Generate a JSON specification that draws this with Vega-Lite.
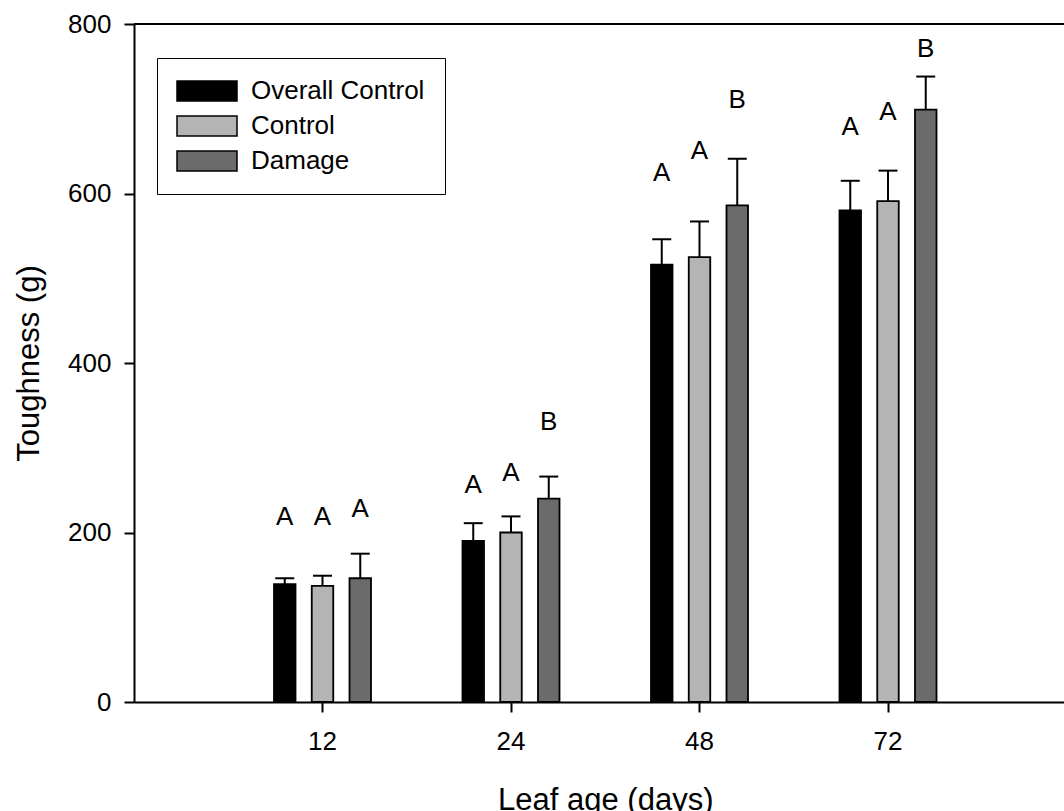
{
  "$schema": "https://vega.github.io/schema/vega-lite/v6.json",
  "width": 930,
  "height": 678,
  "autosize": {"type": "none"},
  "padding": {"left": 134, "top": 24, "right": 0, "bottom": 109},
  "background": "white",
  "config": {
    "view": {"stroke": null},
    "font": "Liberation Sans",
    "axis": {
      "domainColor": "black",
      "domainWidth": 2,
      "tickColor": "black",
      "tickWidth": 2,
      "tickSize": 10,
      "grid": false,
      "labelFont": "Liberation Sans",
      "labelFontSize": 26,
      "labelColor": "black",
      "titleFont": "Liberation Sans",
      "titleFontSize": 31,
      "titleFontWeight": "normal",
      "titleColor": "black"
    }
  },
  "data": {
    "values": [
      {"age": "12", "group": "Overall Control", "mean": 139, "upper": 146, "letter": "A", "letterPos": 218},
      {"age": "12", "group": "Control", "mean": 137, "upper": 149, "letter": "A", "letterPos": 218},
      {"age": "12", "group": "Damage", "mean": 146, "upper": 175, "letter": "A", "letterPos": 228},
      {"age": "24", "group": "Overall Control", "mean": 190, "upper": 211, "letter": "A", "letterPos": 256},
      {"age": "24", "group": "Control", "mean": 200, "upper": 219, "letter": "A", "letterPos": 270},
      {"age": "24", "group": "Damage", "mean": 240, "upper": 266, "letter": "B", "letterPos": 330},
      {"age": "48", "group": "Overall Control", "mean": 516, "upper": 546, "letter": "A", "letterPos": 624},
      {"age": "48", "group": "Control", "mean": 525, "upper": 567, "letter": "A", "letterPos": 650},
      {"age": "48", "group": "Damage", "mean": 586, "upper": 641, "letter": "B", "letterPos": 710},
      {"age": "72", "group": "Overall Control", "mean": 580, "upper": 615, "letter": "A", "letterPos": 679},
      {"age": "72", "group": "Control", "mean": 591, "upper": 627, "letter": "A", "letterPos": 696},
      {"age": "72", "group": "Damage", "mean": 699, "upper": 738, "letter": "B", "letterPos": 771}
    ]
  },
  "encoding": {
    "x": {
      "field": "age",
      "type": "ordinal",
      "title": "Leaf age (days)",
      "scale": {"domain": ["12", "24", "48", "72"], "range": [0, 942.5], "paddingInner": 0, "paddingOuter": 0.5},
      "axis": {"labelAngle": 0, "labelPadding": 16, "titlePadding": 31}
    },
    "xOffset": {
      "field": "group",
      "type": "nominal",
      "scale": {"domain": ["Overall Control", "Control", "Damage"], "range": [45.75, 142.75], "paddingInner": 0.4305, "paddingOuter": 0}
    }
  },
  "layer": [
    {
      "mark": {"type": "rule", "color": "black", "strokeWidth": 2},
      "encoding": {
        "y": {"field": "mean", "type": "quantitative", "scale": {"domain": [0, 800], "nice": false}},
        "y2": {"field": "upper"}
      }
    },
    {
      "mark": {"type": "tick", "color": "black", "size": 19, "thickness": 2, "opacity": 1},
      "encoding": {
        "y": {"field": "upper", "type": "quantitative"}
      }
    },
    {
      "mark": {"type": "bar", "stroke": "black", "strokeWidth": 1.8, "opacity": 1},
      "encoding": {
        "y": {
          "field": "mean",
          "type": "quantitative",
          "title": "Toughness (g)",
          "scale": {"domain": [0, 800], "nice": false},
          "axis": {"values": [0, 200, 400, 600, 800], "labelPadding": 13, "titlePadding": 22}
        },
        "fill": {
          "field": "group",
          "type": "nominal",
          "scale": {"domain": ["Overall Control", "Control", "Damage"], "range": ["#000000", "#b4b4b4", "#6b6b6b"]},
          "legend": {
            "title": null,
            "orient": "none",
            "legendX": 23,
            "legendY": 34,
            "symbolType": "M-1.3,-1H4.7V1H-1.3Z",
            "symbolSize": 400,
            "symbolStrokeColor": "black",
            "symbolStrokeWidth": 1.5,
            "symbolOpacity": 1,
            "labelFont": "Liberation Sans",
            "labelFontSize": 26,
            "labelColor": "black",
            "labelOffset": 48,
            "labelLimit": 400,
            "rowPadding": 9,
            "padding": 20,
            "strokeColor": "black",
            "fillColor": "white"
          }
        }
      }
    },
    {
      "mark": {"type": "text", "fontSize": 26, "font": "Liberation Sans", "color": "black", "baseline": "middle", "align": "center"},
      "encoding": {
        "y": {"field": "letterPos", "type": "quantitative"},
        "text": {"field": "letter"}
      }
    },
    {
      "data": {"values": [{}]},
      "mark": {"type": "rule", "color": "black", "strokeWidth": 2},
      "encoding": {"y": {"datum": 800}, "x": null, "xOffset": null}
    }
  ]
}
